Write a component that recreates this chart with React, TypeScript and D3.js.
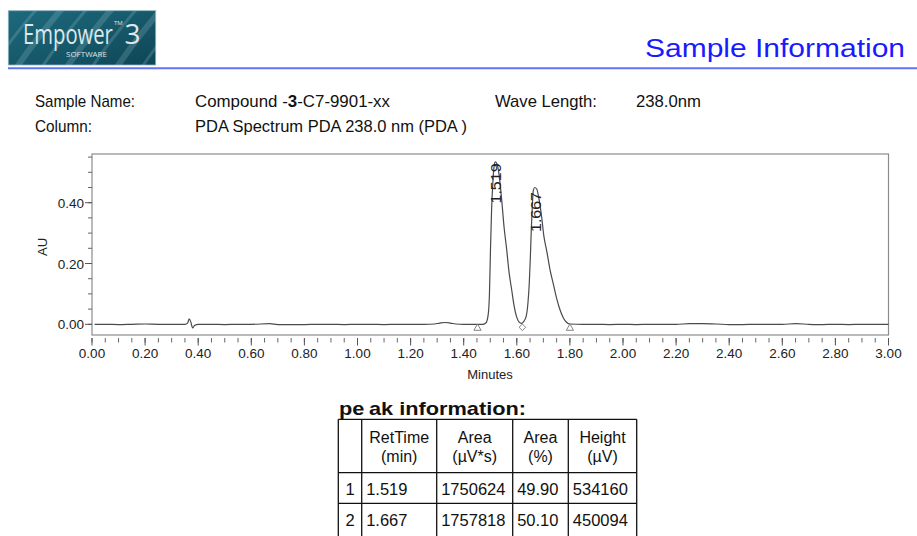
import React from "react";
import * as d3 from "d3";

// ---------- data ----------
const timeMin = [
  0.01, 0.05, 0.10, 0.15, 0.20, 0.25, 0.30, 0.35, 0.36, 0.366, 0.372, 0.379, 0.386, 0.40,
  0.45, 0.50, 0.55, 0.60, 0.67, 0.70, 0.75, 0.80, 0.85, 0.90, 0.95, 1.00, 1.05, 1.10,
  1.15, 1.20, 1.25, 1.29, 1.31, 1.33, 1.35, 1.37, 1.40, 1.44, 1.473,
  1.484, 1.492, 1.497, 1.501, 1.505, 1.510, 1.515, 1.519, 1.525, 1.532, 1.543, 1.552,
  1.562, 1.571, 1.581, 1.589, 1.599, 1.608, 1.618,
  1.625, 1.635, 1.642, 1.647, 1.651, 1.655, 1.659, 1.662, 1.667, 1.675, 1.684, 1.694,
  1.702, 1.713, 1.725, 1.737, 1.750, 1.763, 1.776, 1.788, 1.800,
  1.85, 1.90, 1.95, 2.00, 2.05, 2.10, 2.15, 2.20, 2.25, 2.30, 2.35, 2.40, 2.45, 2.50,
  2.55, 2.60, 2.65, 2.70, 2.75, 2.80, 2.85, 2.90, 2.95, 3.00,
];
const absorbanceAU = [
  0.000, 0.000, -0.001, 0.000, 0.001, 0.000, 0.000, 0.000, 0.004, 0.018, 0.008, -0.012, -0.004, 0.000,
  0.000, -0.001, 0.000, 0.000, 0.002, -0.001, -0.001, -0.001, 0.000, 0.000, -0.001, 0.000, 0.000, -0.001,
  0.000, 0.000, 0.000, 0.001, 0.004, 0.006, 0.004, 0.001, 0.000, 0.000, 0.000,
  0.005, 0.030, 0.100, 0.250, 0.375, 0.470, 0.522, 0.534, 0.528, 0.500, 0.410, 0.320,
  0.245, 0.170, 0.112, 0.065, 0.025, 0.008, 0.003,
  0.008, 0.025, 0.070, 0.135, 0.220, 0.320, 0.400, 0.440, 0.450, 0.445, 0.410, 0.350,
  0.290, 0.240, 0.180, 0.135, 0.085, 0.047, 0.020, 0.006, 0.001,
  0.000, 0.000, -0.001, 0.000, -0.001, 0.000, 0.000, 0.000, 0.002, 0.002, 0.001, -0.001, -0.001, 0.000,
  0.000, 0.000, 0.002, 0.000, -0.001, 0.000, -0.001, 0.000, 0.000, 0.000,
];

const peakLabels = ["1.519", "1.667"];
const peakTimes = [1.519, 1.667];
const peakHeightsAU = [0.534, 0.45];

const markerTimes = [1.452, 1.621, 1.8];
const markerKinds = ["triangle", "diamond", "triangle"];

const xMajorTicks = [0, 0.2, 0.4, 0.6, 0.8, 1.0, 1.2, 1.4, 1.6, 1.8, 2.0, 2.2, 2.4, 2.6, 2.8, 3.0];
const yMajorTicks = [0, 0.2, 0.4];

const tableHeaderTop = ["", "RetTime", "Area", "Area", "Height"];
const tableHeaderBottom = ["", "(min)", "(\u00b5V*s)", "(%)", "(\u00b5V)"];
const tableRowIds = ["1", "2"];
const tableRetTimes = ["1.519", "1.667"];
const tableAreas = ["1750624", "1757818"];
const tableAreaPct = ["49.90", "50.10"];
const tableHeights = ["534160", "450094"];

const infoLabels = ["Sample Name:", "Column:"];
const infoValues = ["Compound -3-C7-9901-xx", "PDA Spectrum PDA 238.0 nm (PDA )"];

// ---------- layout ----------
const W = 917;
const H = 536;
const FONT = "'Liberation Sans', Arial, Helvetica, sans-serif";

export default function App() {
  const x = d3.scaleLinear().domain([0, 3]).range([92, 888.5]);
  const y = d3.scaleLinear().domain([0, 0.4]).range([324.3, 202.7]);
  const frameTop = 154;
  const frameBottom = 335;

  const pts = timeMin.map((t, i) => [t, absorbanceAU[i]] as [number, number]);
  const line = d3
    .line<[number, number]>()
    .x((d) => x(d[0]))
    .y((d) => y(d[1]))
    .curve(d3.curveMonotoneX);

  const xMinor = d3.range(0, 61).map((i) => i * 0.05);
  const yMinor = d3.range(0, 12).map((i) => i * 0.05);

  const colX = [338.3, 361.7, 436.7, 512.7, 568.3, 636.7];
  const rowY = [419.3, 472.7, 503.3, 540];
  const bodyCols = [tableRowIds, tableRetTimes, tableAreas, tableAreaPct, tableHeights];

  return (
    <svg
      width={W}
      height={H}
      style={{ position: "absolute", left: 0, top: 0, background: "#fff" }}
      fontFamily={FONT}
    >
      <defs>
        <linearGradient id="logoGrad" x1="0" y1="0" x2="1" y2="1">
          <stop offset="0" stopColor="#1f6a7e" />
          <stop offset="0.5" stopColor="#175a6c" />
          <stop offset="1" stopColor="#0f4656" />
        </linearGradient>
        <clipPath id="logoClip">
          <rect x={8.3} y={10.7} width={147.4} height={54.3} />
        </clipPath>
      </defs>

      {/* logo */}
      <rect x={8.3} y={10.7} width={147.4} height={54.3} fill="url(#logoGrad)" stroke="#8fb3bd" strokeWidth={0.8} />
      <g clipPath="url(#logoClip)" opacity={0.18} stroke="#bfe3ec" fill="none">
        {[20, 45, 70, 95, 120, 145, 170].map((d, i) => (
          <path key={i} d={`M${d - 30},70 Q${d - 10},40 ${d + 20},5`} strokeWidth={i % 2 ? 6 : 3} />
        ))}
      </g>
      <text transform="translate(23,43.5) scale(0.75,1)" fontSize={27} fill="#dde8ea" fontFamily="'Open Sans', 'Noto Sans', sans-serif">
        Empower
      </text>
      <text x={114} y={25} fontSize={6} fill="#dde8ea" fontFamily="'Open Sans', sans-serif">
        TM
      </text>
      <text x={124.5} y={43.5} fontSize={28} fill="#dde8ea" fontFamily="'Open Sans', 'Noto Sans', sans-serif">
        3
      </text>
      <text x={66} y={57} fontSize={6.5} fill="#dde8ea" fontFamily="'Open Sans', sans-serif" textLength={41} lengthAdjust="spacingAndGlyphs">
        SOFTWARE
      </text>

      {/* title */}
      <text x={645} y={57.3} fontSize={25} fill="#1a1aff" textLength={260} lengthAdjust="spacingAndGlyphs">
        Sample Information
      </text>
      <line x1={8} x2={917} y1={68.3} y2={68.3} stroke="#6273f5" strokeWidth={2} />

      {/* info rows */}
      <text x={35} y={107} fontSize={17} fill="#111" textLength={100} lengthAdjust="spacingAndGlyphs">
        {infoLabels[0]}
      </text>
      <text x={195} y={107} fontSize={17} fill="#111" textLength={195} lengthAdjust="spacingAndGlyphs">
        <tspan>Compound -</tspan>
        <tspan fontWeight="bold">3</tspan>
        <tspan>-C7-9901-xx</tspan>
      </text>
      <text x={495} y={107} fontSize={17} fill="#111" textLength={102} lengthAdjust="spacingAndGlyphs">
        Wave Length:
      </text>
      <text x={636} y={107} fontSize={17} fill="#111" textLength={65} lengthAdjust="spacingAndGlyphs">
        238.0nm
      </text>
      <text x={35} y={132} fontSize={17} fill="#111" textLength={57} lengthAdjust="spacingAndGlyphs">
        {infoLabels[1]}
      </text>
      <text x={195} y={132} fontSize={17} fill="#111" textLength={272} lengthAdjust="spacingAndGlyphs">
        {infoValues[1]}
      </text>

      {/* plot frame */}
      <rect x={x(0)} y={frameTop} width={x(3) - x(0)} height={frameBottom - frameTop} fill="none" stroke="#8c8c8c" strokeWidth={1.2} />

      {/* y axis ticks */}
      {yMinor.map((v, i) => (
        <line key={"ym" + i} x1={x(0) - 4} x2={x(0)} y1={y(v)} y2={y(v)} stroke="#666" strokeWidth={1} />
      ))}
      {yMajorTicks.map((v, i) => (
        <g key={"yM" + i}>
          <line x1={x(0) - 7} x2={x(0)} y1={y(v)} y2={y(v)} stroke="#555" strokeWidth={1} />
          <text x={84} y={y(v) + 5} fontSize={13.5} textAnchor="end" fill="#222">
            {d3.format(".2f")(v)}
          </text>
        </g>
      ))}
      <text transform="translate(47,247) rotate(-90)" fontSize={13} textAnchor="middle" fill="#222">
        AU
      </text>

      {/* x axis ticks */}
      {xMinor.map((v, i) => (
        <line key={"xm" + i} x1={x(v)} x2={x(v)} y1={338} y2={342.5} stroke="#666" strokeWidth={1} />
      ))}
      {xMajorTicks.map((v, i) => (
        <g key={"xM" + i}>
          <line x1={x(v)} x2={x(v)} y1={338} y2={345.5} stroke="#555" strokeWidth={1} />
          <text x={x(v)} y={358} fontSize={13.5} textAnchor="middle" fill="#222">
            {d3.format(".2f")(v)}
          </text>
        </g>
      ))}
      <text x={490} y={379} fontSize={13} textAnchor="middle" fill="#222">
        Minutes
      </text>

      {/* chromatogram */}
      <path d={line(pts) || ""} fill="none" stroke="#4a4a4a" strokeWidth={1.2} />

      {/* integration markers */}
      {markerTimes.map((t, i) => {
        const cx = x(t);
        const cy = 327.3;
        return markerKinds[i] === "triangle" ? (
          <path key={"mk" + i} d={`M${cx},${cy - 3.3} L${cx + 3.6},${cy + 3} L${cx - 3.6},${cy + 3} Z`} fill="#fff" stroke="#777" strokeWidth={0.9} />
        ) : (
          <path key={"mk" + i} d={`M${cx},${cy - 3.3} L${cx + 3.3},${cy} L${cx},${cy + 3.3} L${cx - 3.3},${cy} Z`} fill="#fff" stroke="#777" strokeWidth={0.9} />
        );
      })}

      {/* peak labels */}
      {peakLabels.map((lab, i) => (
        <text
          key={"pl" + i}
          transform={`translate(${x(peakTimes[i]) + 6},${y(peakHeightsAU[i]) + 1.5 + i * 3}) rotate(-90)`}
          fontSize={14}
          textAnchor="end"
          fill="#222"
          textLength={40}
          lengthAdjust="spacingAndGlyphs"
        >
          {lab}
        </text>
      ))}

      {/* peak information table */}
      <text x={339} y={415} fontSize={19} fontWeight="bold" fill="#111" textLength={187} lengthAdjust="spacingAndGlyphs">
        <tspan>pe</tspan>
        <tspan dx={4}>ak information:</tspan>
      </text>
      {colX.map((cx, i) => (
        <line key={"cv" + i} x1={cx} x2={cx} y1={rowY[0]} y2={rowY[3]} stroke="#111" strokeWidth={1.3} />
      ))}
      {rowY.map((ry, i) => (
        <line key={"rh" + i} x1={colX[0]} x2={colX[5]} y1={ry} y2={ry} stroke="#111" strokeWidth={1.3} />
      ))}
      {tableHeaderTop.map((h, i) => (
        <g key={"th" + i}>
          <text x={(colX[i] + colX[i + 1]) / 2} y={443} fontSize={16} textAnchor="middle" fill="#111">
            {h}
          </text>
          <text x={(colX[i] + colX[i + 1]) / 2} y={462} fontSize={16} textAnchor="middle" fill="#111">
            {tableHeaderBottom[i]}
          </text>
        </g>
      ))}
      {tableRowIds.map((_, r) =>
        bodyCols.map((col, c) => (
          <text
            key={`td${r}-${c}`}
            x={c === 0 ? (colX[0] + colX[1]) / 2 : colX[c] + 4.5}
            y={495 + r * 30.6}
            fontSize={16.5}
            textAnchor={c === 0 ? "middle" : "start"}
            fill="#111"
          >
            {col[r]}
          </text>
        ))
      )}
    </svg>
  );
}
